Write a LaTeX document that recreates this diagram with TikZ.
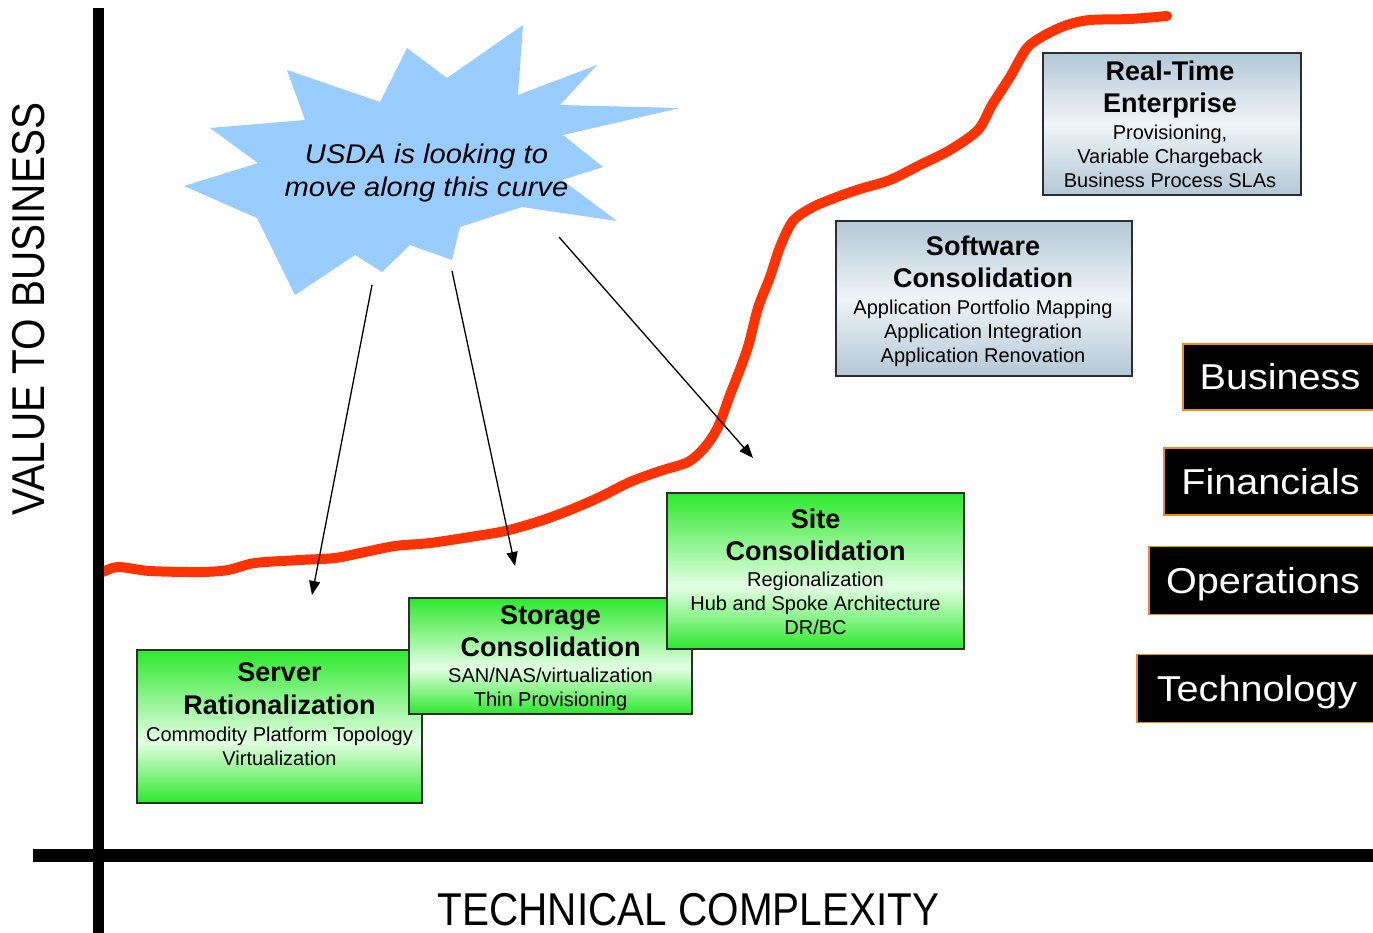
\documentclass[tikz,border=0pt]{standalone}
\usepackage{fontspec}
\setmainfont{Liberation Sans}
\newfontfamily\burstfont[FakeStretch=1.08]{Liberation Sans}
\newfontfamily\lblfont[FakeStretch=1.1]{Liberation Sans}
\newfontfamily\axisfont[FakeStretch=0.88]{Liberation Sans}
\usetikzlibrary{arrows.meta}
\definecolor{curvered}{RGB}{255,51,0}
\definecolor{burstblue}{RGB}{153,204,255}
\definecolor{gedge}{RGB}{45,232,45}
\definecolor{gmid}{RGB}{228,255,228}
\definecolor{sedge}{RGB}{178,200,214}
\definecolor{smid}{RGB}{240,244,247}
\definecolor{lblorange}{RGB}{240,140,20}
\definecolor{boxborder}{RGB}{45,45,45}
\pgfdeclareverticalshading{greenfade}{100bp}{color(0bp)=(gedge); color(25bp)=(gedge); color(45bp)=(gmid); color(75bp)=(gedge); color(100bp)=(gedge)}
\pgfdeclareverticalshading{steelfade}{100bp}{color(0bp)=(sedge); color(25bp)=(sedge); color(50bp)=(smid); color(75bp)=(sedge); color(100bp)=(sedge)}
\tikzset{
  greenbox/.style={rectangle, draw=boxborder, line width=1.5pt, shading=greenfade, inner sep=0pt},
  steelbox/.style={rectangle, draw=boxborder, line width=1.5pt, shading=steelfade, inner sep=0pt},
  titletext/.style={anchor=north, align=center, inner sep=0pt, font=\fontsize{27}{32}\selectfont\bfseries},
  subtext/.style={anchor=north, align=center, inner sep=0pt, font=\fontsize{20}{24}\selectfont},
  lblbox/.style={rectangle, fill=black, draw=lblorange, line width=1.5pt, text=white, inner sep=0pt,
    font=\lblfont\fontsize{36}{36}\selectfont, text height=25.8pt, text depth=0pt},
  axislabel/.style={anchor=base, inner sep=0pt, font=\axisfont\fontsize{46}{46}\selectfont},
  pointer/.style={draw=black, line width=1.3pt, -{Triangle[length=14pt,width=11pt]}},
  growth/.style={draw=curvered, line width=10pt, line cap=round, line join=round},
}
\begin{document}
\begin{tikzpicture}[x=1pt,y=-1pt]
\useasboundingbox (0,0) rectangle (1373,932);
\fill[white] (0,0) rectangle (1373,932);

% starburst
\fill[burstblue] (287,70) -- (380,102) -- (407,48) -- (447,78) -- (523,25) -- (518,95)
  -- (597,65) -- (560,105) -- (680,108) -- (563,135) -- (603,167) -- (562,180)
  -- (617,221) -- (522,207) -- (460,227) -- (452,260) -- (410,245) -- (382,272)
  -- (355,255) -- (295,295) -- (257,218) -- (184,186) -- (258,163) -- (210,128)
  -- (305,120) -- cycle;
\node[font=\burstfont\itshape\fontsize{27}{33}\selectfont, align=center, anchor=north, inner sep=0pt]
  (usda) at (426.5,144) {USDA is looking to\\move along this curve};

% growth curve
\draw[growth] plot[smooth, tension=0.5] coordinates {
 (103,572) (118,567) (150,571) (200,572) (228,570) (255,563) (300,560) (335,558)
 (365,552) (395,546) (430,543) (470,537) (505,531) (540,521) (570,510) (600,497)
 (630,482) (660,471) (688,462) (705,447) (718,427) (730,395) (747,350) (758,308)
 (770,277) (780,247) (793,221) (813,207) (837,197) (860,189) (890,180) (920,165)
 (950,150) (978,130) (992,105) (1010,77) (1027,48) (1045,35) (1067,25) (1090,20)
 (1130,19) (1167,16)};

% axes
\coordinate (ytop) at (98.7,8);
\coordinate (ybot) at (98.7,940);
\coordinate (xleft) at (33,855.7);
\coordinate (xright) at (1380,855.7);
\draw[line width=10.7pt] (ytop) -- (ybot);
\draw[line width=13.3pt] (xleft) -- (xright);

\node[axislabel] (xlabel) at (688.5,925) {TECHNICAL COMPLEXITY};
\node[axislabel, rotate=90] (ylabel) at (44,309) {VALUE TO BUSINESS};

% arrows
\coordinate (a1s) at (372,285); \coordinate (a1e) at (312,595);
\coordinate (a2s) at (452,271); \coordinate (a2e) at (515,566);
\coordinate (a3s) at (559,237); \coordinate (a3e) at (753,458);
\draw[pointer] (a1s) -- (a1e);
\draw[pointer] (a2s) -- (a2e);
\draw[pointer] (a3s) -- (a3e);

% stage boxes
\node[greenbox, minimum width=285pt, minimum height=153pt] (server) at (279.5,726.5) {};
\node[titletext] (servert) at (279.5,662) {Server\\[1pt]Rationalization};
\node[subtext] (servers) at (279.5,727) {Commodity Platform Topology\\Virtualization};

\node[greenbox, minimum width=283pt, minimum height=116pt] (storage) at (550.5,656) {};
\node[titletext] (storaget) at (550.5,605) {Storage\\Consolidation};
\node[subtext] (storages) at (550.5,668) {SAN/NAS/virtualization\\Thin Provisioning};

\node[greenbox, minimum width=297pt, minimum height=156pt] (site) at (815.5,571) {};
\node[titletext] (sitet) at (815.5,509) {Site\\Consolidation};
\node[subtext] (sites) at (815.5,571.5) {Regionalization\\Hub and Spoke Architecture\\DR/BC};

\node[steelbox, minimum width=296pt, minimum height=155pt] (software) at (984,298.5) {};
\node[titletext] (softwaret) at (983,236) {Software\\Consolidation};
\node[subtext] (softwares) at (983,300) {Application Portfolio Mapping\\Application Integration\\Application Renovation};

\node[steelbox, minimum width=258pt, minimum height=142pt] (realtime) at (1172,124) {};
\node[titletext] (realtimet) at (1170,61) {Real-Time\\Enterprise};
\node[subtext] (realtimes) at (1170,125) {Provisioning,\\Variable Chargeback\\Business Process SLAs};

% right-hand labels
\node[lblbox, minimum width=194pt, minimum height=66pt] (business) at (1280,377) {Business};
\node[lblbox, minimum width=213pt, minimum height=67pt] (financials) at (1270.5,481.3) {Financials};
\node[lblbox, minimum width=228pt, minimum height=67.6pt] (operations) at (1263,580.5) {Operations};
\node[lblbox, minimum width=240pt, minimum height=68pt] (technology) at (1257,688.3) {Technology};
\end{tikzpicture}
\end{document}
